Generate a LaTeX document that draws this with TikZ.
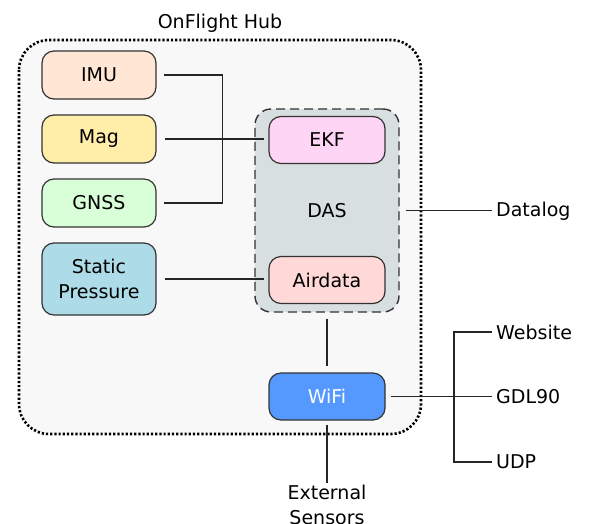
\documentclass[tikz,border=0pt]{standalone}
\usepackage{fontspec}
\setmainfont{DejaVu Sans}
\usetikzlibrary{positioning}
\definecolor{hubfill}{HTML}{F8F8F8}
\definecolor{dasfill}{HTML}{D8DFE1}
\definecolor{imufill}{HTML}{FFE6D5}
\definecolor{magfill}{HTML}{FFEEAA}
\definecolor{gnssfill}{HTML}{D8FFD8}
\definecolor{staticfill}{HTML}{ADDCE8}
\definecolor{ekffill}{HTML}{FFD5F6}
\definecolor{airfill}{HTML}{FFD8D8}
\definecolor{wififill}{HTML}{5599FF}
\definecolor{edge}{HTML}{333333}

\begin{document}
\begin{tikzpicture}[x=1pt,y=-1pt,node distance=64pt,on grid,
  font=\fontsize{19}{25}\selectfont]
\tikzstyle{block}=[rectangle,draw=edge,line width=1.2pt,rounded corners=12pt,
  minimum width=114pt,minimum height=48pt,inner sep=0pt,align=center]
\tikzstyle{wire}=[draw=black!85,line width=1.2pt]
\tikzstyle{label}=[inner sep=4pt,anchor=west]

\useasboundingbox (0,0) rectangle (589,523);

%-- Hub and DAS frames --
\draw[fill=hubfill,line width=2.6pt,dash pattern=on 2.2pt off 2pt,rounded corners=30pt]
  (19,40) rectangle (421,434);
\node (hub) at (220,23) {OnFlight Hub};
\node[draw=edge,fill=dasfill,line width=1.4pt,dash pattern=on 9pt off 5pt,
  rounded corners=16pt,minimum width=144pt,minimum height=203pt] (das) at (327,210.5) {DAS};

%-- Sensor nodes --
\node[block,fill=imufill] (imu) at (99,75) {IMU};
\node[block,fill=magfill] (mag) [below=of imu] {Mag};
\node[block,fill=gnssfill] (gnss) [below=of mag] {GNSS};
\node[block,fill=staticfill,minimum height=72pt] (static) [below=76pt of gnss] {Static\\Pressure};

%-- DAS parts and radio --
\node[block,fill=ekffill,minimum width=116pt,minimum height=47pt] (ekf) at (327,140) {EKF};
\node[block,fill=airfill,minimum width=116pt,minimum height=47pt] (airdata) [below=140pt of ekf] {Airdata};
\node[block,fill=wififill,text=white,minimum width=116pt,minimum height=47pt] (wifi) [below=116.5pt of airdata] {WiFi};

%-- Outputs --
\node[label] (datalog) at (492,211) {Datalog};
\node[label] (website) at (492,332) {Website};
\node[label] (gdl) at (492,397) {GDL90};
\node[label] (udp) at (492,462) {UDP};
\node[inner sep=2pt,anchor=north,align=center] (ext) at (327,483) {External\\Sensors};

%-- Connections --
\draw[wire] ([xshift=7pt]imu.east) -- ++(59,0) |- ([xshift=7pt]gnss.east);
\draw[wire] ([xshift=8pt]mag.east) -- ([xshift=-4pt]mag.east -| ekf.west);
\draw[wire] ([xshift=8pt]static.east) -- ([xshift=-4pt]static.east -| airdata.west);
\draw[wire] ([xshift=6pt]das.east) -- (das.east -| datalog.west);
\draw[wire] ([yshift=-6pt]das.south) -- ([yshift=6pt]wifi.north);
\draw[wire] ([xshift=5pt]wifi.east) -- (wifi.east -| gdl.west);
\draw[wire] (website.west) -- ++(-38,0) |- (udp.west);
\draw[wire] ([yshift=-4pt]wifi.south) -- (ext.north);

\end{tikzpicture}
\end{document}
